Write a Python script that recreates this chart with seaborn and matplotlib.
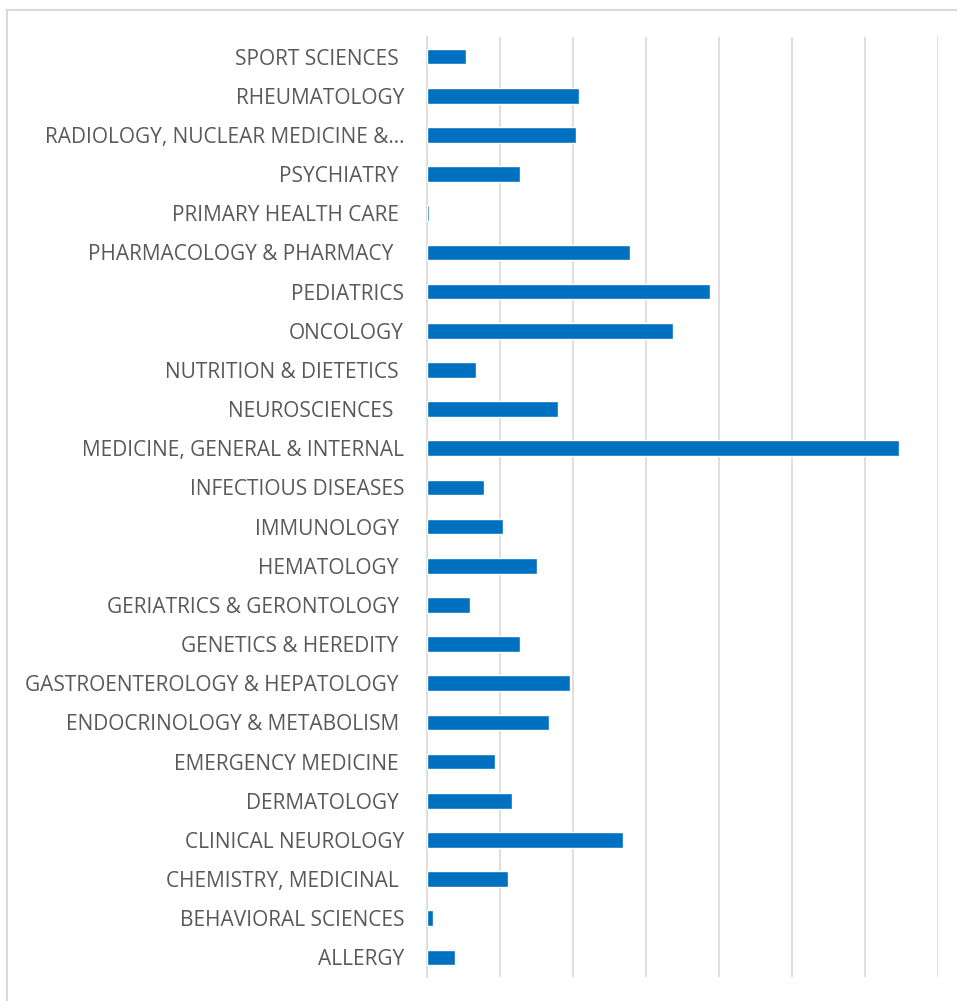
import matplotlib
matplotlib.use('Agg')
import matplotlib.pyplot as plt
from matplotlib.patches import Rectangle
import seaborn as sns
import pandas as pd

# categorías de arriba hacia abajo, tal como aparecen en el gráfico
categories = [
    'SPORT SCIENCES ', 'RHEUMATOLOGY', 'RADIOLOGY, NUCLEAR MEDICINE &…',
    'PSYCHIATRY ', 'PRIMARY HEALTH CARE ', 'PHARMACOLOGY & PHARMACY  ',
    'PEDIATRICS', 'ONCOLOGY', 'NUTRITION & DIETETICS ', 'NEUROSCIENCES  ',
    'MEDICINE, GENERAL & INTERNAL', 'INFECTIOUS DISEASES', 'IMMUNOLOGY ',
    'HEMATOLOGY ', 'GERIATRICS & GERONTOLOGY ', 'GENETICS & HEREDITY ',
    'GASTROENTEROLOGY & HEPATOLOGY ', 'ENDOCRINOLOGY & METABOLISM ',
    'EMERGENCY MEDICINE ', 'DERMATOLOGY ', 'CLINICAL NEUROLOGY',
    'CHEMISTRY, MEDICINAL ', 'BEHAVIORAL SCIENCES', 'ALLERGY',
]
values = [
    5.3, 20.8, 20.4, 12.8, 0.3, 27.8, 38.8, 33.7, 6.7, 17.9,
    64.6, 7.8, 10.4, 15.0, 5.9, 12.8, 19.6, 16.7, 9.3, 11.7,
    26.9, 11.1, 0.8, 3.8,
]
x_ticks = [0, 10, 20, 30, 40, 50, 60, 70]

df = pd.DataFrame({'category': categories, 'value': values})

sns.set_style('white')
plt.rcParams['font.family'] = ['Open Sans', 'DejaVu Sans']

fig = plt.figure(figsize=(9.57, 10.01), dpi=100)
ax = fig.add_axes([427 / 957, 1 - 977 / 1001, (938 - 427) / 957, (977 - 37) / 1001])

sns.barplot(data=df, x='value', y='category', order=categories, orient='h',
            color='#0070C0', saturation=1, width=0.4, ax=ax)

ax.set_xlim(0, 70)
ax.set_xticks(x_ticks)
ax.set_xticklabels([])
ax.tick_params(axis='x', length=0)
ax.tick_params(axis='y', length=0, pad=16.5, labelsize=15, labelcolor='#595959')
ax.grid(axis='x', color='#D9D9D9', linewidth=1.2)
ax.set_axisbelow(True)
ax.set_xlabel('')
ax.set_ylabel('')
for side in ['top', 'right', 'bottom']:
    ax.spines[side].set_visible(False)
ax.spines['left'].set_color('#D9D9D9')
ax.spines['left'].set_linewidth(1.2)
ax.spines['left'].set_zorder(0.5)

# marco del gráfico (recortado a la derecha y abajo)
fig.patches.append(Rectangle((7.5 / 957, -0.05), 1.1, 1 - 9.5 / 1001 + 0.05,
                             transform=fig.transFigure, fill=False,
                             edgecolor='#D9D9D9', linewidth=1.5))

fig.savefig('out.png', dpi=100)
